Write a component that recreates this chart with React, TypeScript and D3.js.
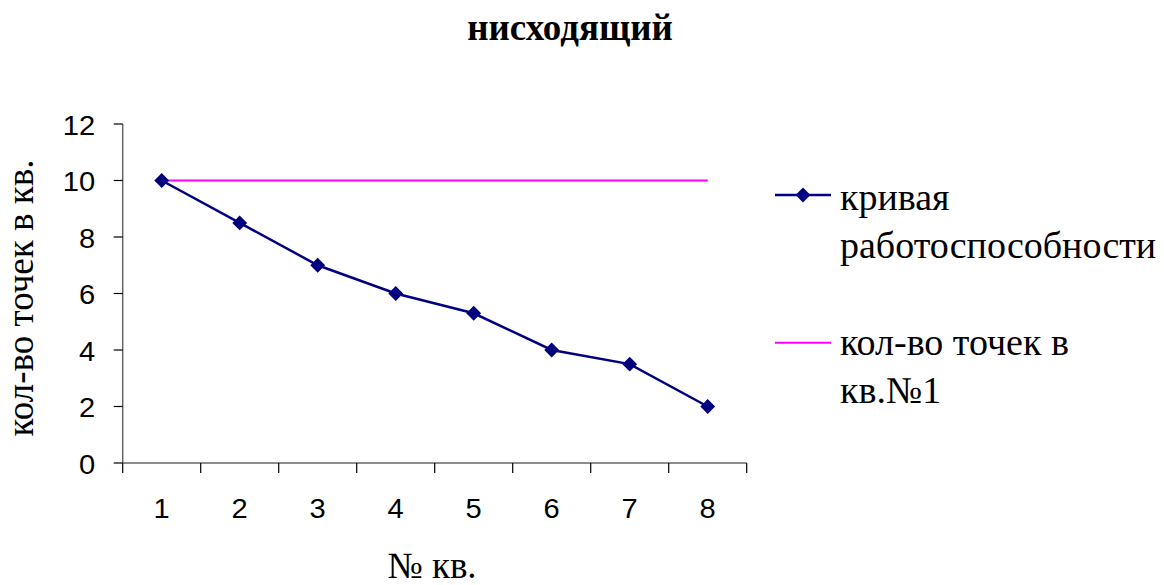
import React, { useEffect, useRef } from 'react';
import * as d3 from 'd3';

const width = 1164;
const height = 585;

const categories = ['1', '2', '3', '4', '5', '6', '7', '8'];
const curveValues = [10, 8.5, 7, 6, 5.3, 4, 3.5, 2];
const baseValues = [10, 10, 10, 10, 10, 10, 10, 10];
const yTicks = [0, 2, 4, 6, 8, 10, 12];
const seriesNames = [['кривая', 'работоспособности'], ['кол-во точек в', 'кв.№1']];

const navy = '#000080';
const magenta = '#FF00FF';
const serif = '"Liberation Serif", "Times New Roman", serif';
const sans = '"Liberation Sans", Arial, sans-serif';

const App: React.FC = () => {
  const ref = useRef<SVGSVGElement>(null);

  useEffect(() => {
    if (!ref.current) return;
    const svg = d3.select(ref.current);
    svg.selectAll('*').remove();

    const left = 122.7;
    const right = 746.7;
    const top = 124;
    const bottom = 463;

    const x = d3.scaleBand<string>().domain(categories).range([left, right]);
    const y = d3.scaleLinear().domain([0, 12]).range([bottom, top]);
    const cx = (c: string) => (x(c) as number) + x.bandwidth() / 2;

    const txt = (
      g: d3.Selection<any, any, any, any>,
      s: string,
      tx: number,
      ty: number,
      opts: { anchor?: string; size: number; family: string; weight?: string; rotate?: number; sx?: number }
    ) => {
      const t = `translate(${tx},${ty})` + (opts.rotate ? ` rotate(${opts.rotate})` : '') + ` scale(${opts.sx ?? 1},1)`;
      return g
        .append('text')
        .attr('transform', t)
        .attr('text-anchor', opts.anchor ?? 'start')
        .attr('font-family', opts.family)
        .attr('font-size', opts.size)
        .attr('font-weight', opts.weight ?? 'normal')
        .attr('fill', '#000')
        .text(s);
    };

    // title
    txt(svg, 'нисходящий', 570, 40, { anchor: 'middle', size: 37, family: serif, weight: 'bold' });

    // y axis
    const ya = svg.append('g');
    ya.append('line').attr('x1', left).attr('x2', left).attr('y1', y(12)).attr('y2', y(0)).attr('stroke', '#666').attr('stroke-width', 1.5);
    yTicks.forEach(v => {
      ya.append('line').attr('x1', left - 9).attr('x2', left).attr('y1', y(v)).attr('y2', y(v)).attr('stroke', '#000').attr('stroke-width', 1.2);
      txt(ya, String(v), left - 27.5, y(v) + 10.5, { anchor: 'end', size: 28, family: sans, sx: 1.04 });
    });

    // x axis
    const xa = svg.append('g');
    xa.append('line').attr('x1', left).attr('x2', right).attr('y1', bottom).attr('y2', bottom).attr('stroke', '#666').attr('stroke-width', 1.5);
    [...categories.map(c => x(c) as number), right].forEach(px => {
      xa.append('line').attr('x1', px).attr('x2', px).attr('y1', bottom).attr('y2', bottom + 10).attr('stroke', '#000').attr('stroke-width', 1.2);
    });
    categories.forEach(c => {
      txt(xa, c, cx(c), 518, { anchor: 'middle', size: 28, family: sans, sx: 1.04 });
    });

    // axis titles
    txt(svg, '№ кв.', 432, 578, { anchor: 'middle', size: 37, family: serif });
    txt(svg, 'кол-во точек в кв.', 33, 298, { anchor: 'middle', size: 37, family: serif, rotate: -90 });

    const line = d3
      .line<number>()
      .x((_, i) => cx(categories[i]))
      .y(d => y(d));

    svg.append('path').attr('d', line(baseValues)).attr('fill', 'none').attr('stroke', magenta).attr('stroke-width', 2);
    svg.append('path').attr('d', line(curveValues)).attr('fill', 'none').attr('stroke', navy).attr('stroke-width', 2.5);

    const diamond = d3.symbol().type(d3.symbolDiamond2).size(140);
    svg
      .selectAll('path.mk')
      .data(curveValues)
      .enter()
      .append('path')
      .attr('class', 'mk')
      .attr('d', diamond)
      .attr('transform', (d, i) => `translate(${cx(categories[i])},${y(d)})`)
      .attr('fill', navy);

    // legend
    const lg = svg.append('g');
    const rows = [
      { color: navy, marker: true, ly: 195, base: 210, w: 2.5 },
      { color: magenta, marker: false, ly: 342.7, base: 355, w: 2 },
    ];
    rows.forEach((r, i) => {
      lg.append('line').attr('x1', 775).attr('x2', 831).attr('y1', r.ly).attr('y2', r.ly).attr('stroke', r.color).attr('stroke-width', r.w);
      if (r.marker) {
        lg.append('path').attr('d', diamond).attr('transform', `translate(803,${r.ly})`).attr('fill', navy);
      }
      seriesNames[i].forEach((s, j) => {
        txt(lg, s, 840, r.base + j * 48, { size: 38, family: serif });
      });
    });
  }, []);

  return (
    <svg
      ref={ref}
      width={width}
      height={height}
      style={{ position: 'absolute', left: 0, top: 0, background: '#fff' }}
    />
  );
};

export default App;
